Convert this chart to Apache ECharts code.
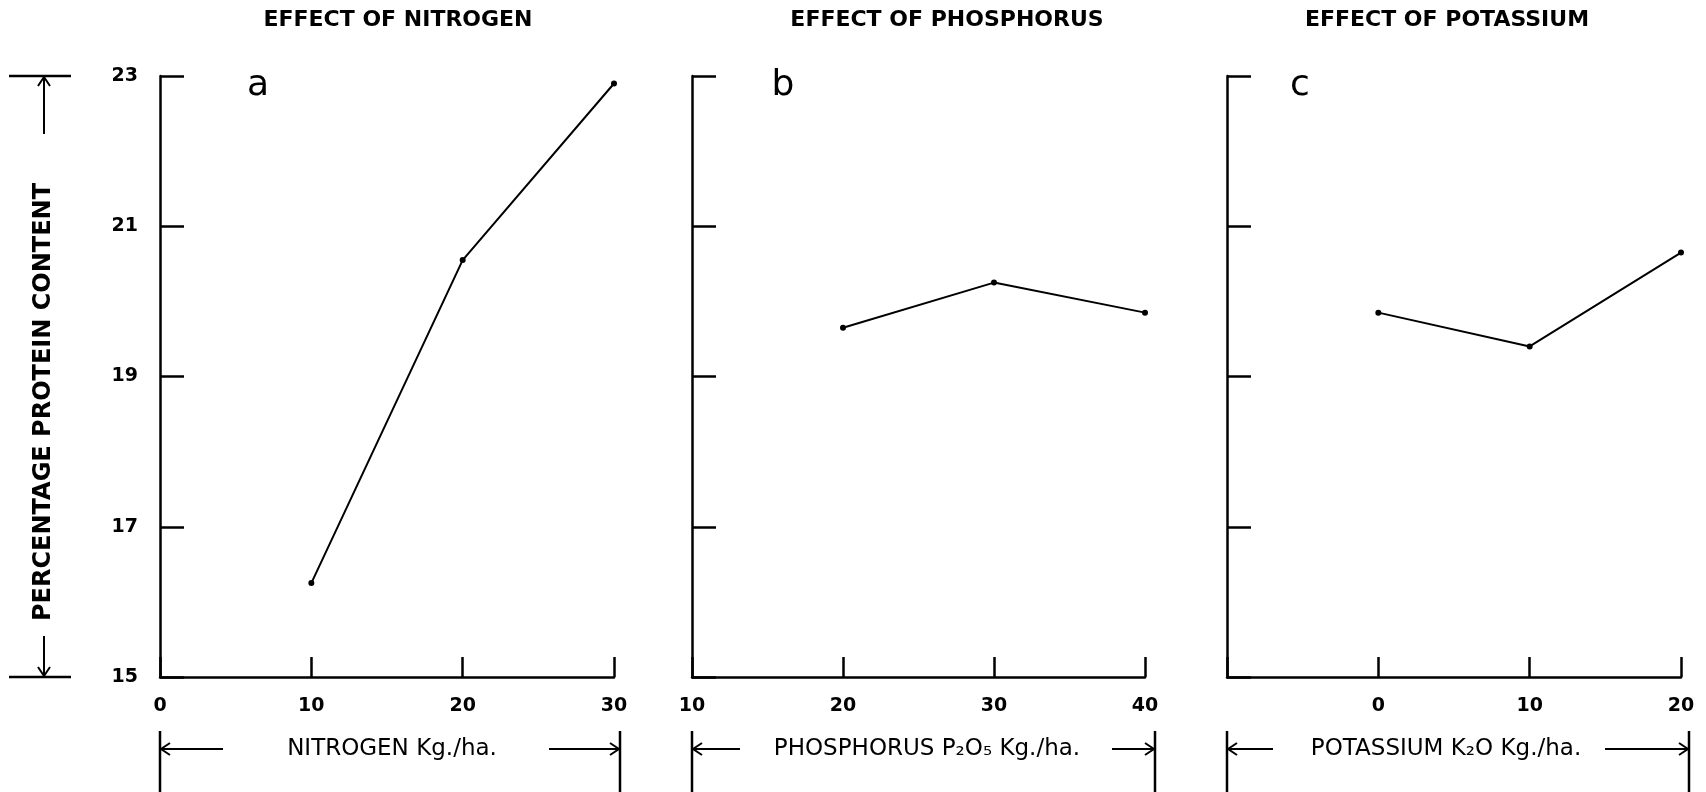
<!DOCTYPE html>
<html>
<head>
<meta charset="utf-8">
<title>Effect of N, P and K on protein content</title>
<script src="https://cdn.jsdelivr.net/npm/echarts@6.0.0/dist/echarts.min.js"></script>
<style>
  html, body { margin: 0; padding: 0; background: #fff; }
  #chart { width: 1706px; height: 792px; }
</style>
</head>
<body>
<div id="chart"></div>
<script>
// 数据：三个小图各自的施肥量和蛋白质含量
const nitrogenRates = [10, 20, 30]
const nitrogenProtein = [16.25, 20.55, 22.9]
const phosphorusRates = [20, 30, 40]
const phosphorusProtein = [19.65, 20.25, 19.85]
const potassiumRates = [0, 10, 20]
const potassiumProtein = [19.85, 19.4, 20.65]

// 刻度标签
const proteinTicks = [15, 17, 19, 21, 23]
const nitrogenTicks = [0, 10, 20, 30]
const phosphorusTicks = [10, 20, 30, 40]
const potassiumTicks = [0, 10, 20]

const titles = ['EFFECT OF NITROGEN', 'EFFECT OF PHOSPHORUS', 'EFFECT OF POTASSIUM']
const panelLetters = ['a', 'b', 'c']
const xNames = ['NITROGEN Kg./ha.', 'PHOSPHORUS P₂O₅ Kg./ha.', 'POTASSIUM K₂O Kg./ha.']

const FONT = 'DejaVu Sans'
const INK = '#000'

// 每个小图的位置（像素）
const panels = [
  { left: 160, width: 454, xMin: 0, xMax: 30, ticks: nitrogenTicks, titleX: 398, letterX: 258,
    nameX: 392, barR: 620, arrowL: 223, arrowR: 549 },
  { left: 692, width: 453, xMin: 10, xMax: 40, ticks: phosphorusTicks, titleX: 947, letterX: 783,
    nameX: 927, barR: 1155, arrowL: 740, arrowR: 1112 },
  { left: 1227, width: 454, xMin: -10, xMax: 20, ticks: potassiumTicks, titleX: 1447, letterX: 1300,
    nameX: 1446, barR: 1689, arrowL: 1273, arrowR: 1605 }
]
const gridTop = 76
const gridHeight = 601
const nameY = 749

const seriesData = [
  nitrogenRates.map((x, i) => [x, nitrogenProtein[i]]),
  phosphorusRates.map((x, i) => [x, phosphorusProtein[i]]),
  potassiumRates.map((x, i) => [x, potassiumProtein[i]])
]

// 画线的小工具
function seg(x1, y1, x2, y2, w) {
  return { type: 'line', silent: true, shape: { x1, y1, x2, y2 },
    style: { stroke: INK, lineWidth: w || 2 } }
}
function head(points) {
  return { type: 'polyline', silent: true, shape: { points },
    style: { stroke: INK, lineWidth: 2, fill: null } }
}

const graphics = []

panels.forEach((p, i) => {
  // 标题
  graphics.push({ type: 'text', silent: true, x: p.titleX, y: 20,
    style: { text: titles[i], fill: INK, font: 'bold 22px ' + FONT, align: 'center', verticalAlign: 'middle' } })
  // a b c
  graphics.push({ type: 'text', silent: true, x: p.letterX, y: 86,
    style: { text: panelLetters[i], fill: INK, font: '36px ' + FONT, align: 'center', verticalAlign: 'middle' } })
  // 横轴名称和两端的箭头
  const l = p.left
  const r = p.barR
  graphics.push(seg(l, 731, l, 792, 2.5))
  graphics.push(seg(r, 731, r, 792, 2.5))
  graphics.push(seg(l, nameY, p.arrowL, nameY))
  graphics.push(head([[l + 10, nameY - 6], [l + 1, nameY], [l + 10, nameY + 6]]))
  graphics.push(seg(p.arrowR, nameY, r, nameY))
  graphics.push(head([[r - 10, nameY - 6], [r - 1, nameY], [r - 10, nameY + 6]]))
  graphics.push({ type: 'text', silent: true, x: p.nameX, y: nameY,
    style: { text: xNames[i], fill: INK, font: '23px ' + FONT, align: 'center', verticalAlign: 'middle' } })
})

// 纵轴名称
const yTop = gridTop
const yBot = gridTop + gridHeight
graphics.push(seg(9, yTop, 71, yTop, 2.5))
graphics.push(seg(9, yBot, 71, yBot, 2.5))
graphics.push(seg(44, yTop, 44, 134))
graphics.push(head([[38, yTop + 10], [44, yTop + 1], [50, yTop + 10]]))
graphics.push(seg(44, 636, 44, yBot))
graphics.push(head([[38, yBot - 10], [44, yBot - 1], [50, yBot - 10]]))
graphics.push({ type: 'text', silent: true, x: 44, y: 402, rotation: Math.PI / 2,
  style: { text: 'PERCENTAGE PROTEIN CONTENT', fill: INK, font: 'bold 24px ' + FONT, align: 'center', verticalAlign: 'middle' } })

const option = {
  backgroundColor: '#fff',
  animation: false,
  grid: panels.map(p => ({ left: p.left, width: p.width, top: gridTop, height: gridHeight })),
  xAxis: panels.map((p, i) => ({
    type: 'value',
    gridIndex: i,
    min: p.xMin,
    max: p.xMax,
    interval: 10,
    splitLine: { show: false },
    axisLine: { onZero: false, lineStyle: { color: INK, width: 2.5 } },
    axisTick: { inside: true, length: 20, lineStyle: { color: INK, width: 2.5 } },
    axisLabel: {
      margin: 20,
      color: INK,
      fontFamily: FONT,
      fontWeight: 'bold',
      fontSize: 19,
      showMinLabel: true,
      showMaxLabel: true,
      formatter: v => (p.ticks.indexOf(v) >= 0 ? String(v) : '')
    }
  })),
  yAxis: panels.map((p, i) => ({
    type: 'value',
    gridIndex: i,
    min: 15,
    max: 23,
    interval: 2,
    splitLine: { show: false },
    axisLine: { onZero: false, lineStyle: { color: INK, width: 2.5 } },
    axisTick: { inside: true, length: 24, lineStyle: { color: INK, width: 2.5 } },
    axisLabel: {
      show: i === 0,
      margin: 22,
      color: INK,
      fontFamily: FONT,
      fontWeight: 'bold',
      fontSize: 19,
      formatter: v => (proteinTicks.indexOf(v) >= 0 ? String(v) : '')
    }
  })),
  series: seriesData.map((d, i) => ({
    type: 'line',
    xAxisIndex: i,
    yAxisIndex: i,
    data: d,
    symbol: 'circle',
    symbolSize: 6,
    itemStyle: { color: INK },
    lineStyle: { color: INK, width: 2 }
  })),
  graphic: graphics
}

const chart = echarts.init(document.getElementById('chart'))
chart.setOption(option)
</script>
</body>
</html>
